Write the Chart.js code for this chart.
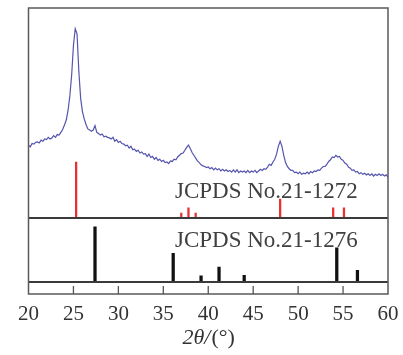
<!DOCTYPE html>
<html>
<head>
<meta charset="utf-8">
<script src="https://cdn.jsdelivr.net/npm/chart.js@4.4.0/dist/chart.umd.min.js"></script>
<style>
  html, body { margin: 0; padding: 0; background: #fff; }
  #wrap { width: 403px; height: 355px; position: relative; }
</style>
</head>
<body>
<div id="wrap"><canvas id="xrdChart"></canvas></div>
<script>
// measured pattern: 2theta scan from 20 to 60 deg, step 0.2
const scanStart = 20;
const scanStep = 0.2;
const intensity = [
    130, 127, 133, 132, 135,  136, 134, 139, 137, 141,
    140, 144, 141, 143, 147,  144, 149, 148, 153, 158,
    166, 175, 192, 218, 255,  308, 338, 329, 262, 214,
    190, 177, 167, 159, 157,  155, 157, 165, 153, 151,
    148, 150, 145, 146, 144,  143, 141, 144, 137, 140,
    135, 137, 133, 132, 129,  130, 125, 128, 122, 123,
    119, 121, 116, 118, 114,  115, 110, 114, 108, 110,
    105, 108, 103, 105, 101,  103, 99, 100, 97, 102,
    101, 105, 104, 109, 112,  115, 116, 121, 126, 130,
    124, 117, 112, 107, 102,  99, 95, 93, 92, 90,
    91, 88, 90, 86, 89,  86, 88, 84, 87, 84,
    86, 83, 85, 82, 86,  82, 86, 81, 84, 82,
    84, 81, 85, 81, 84,  82, 85, 81, 84, 87,
    85, 88, 87, 91, 96,  94, 100, 105, 114, 128,
    137, 128, 112, 99, 92,  88, 85, 85, 81, 82,
    79, 82, 78, 80, 79,  82, 79, 83, 81, 84,
    83, 86, 85, 89, 92,  92, 96, 101, 104, 109,
    108, 112, 109, 110, 105,  103, 98, 96, 91, 89,
    85, 86, 82, 83, 79,  81, 78, 80, 77, 79,
    76, 79, 75, 78, 76,  79, 76, 78, 75, 77,
    73
];

// JCPDS No.21-1272 (anatase)
const anataseAngles = [25.3, 37.0, 37.8, 38.6, 48.0, 53.9, 55.1];
const anataseRel = [100, 9, 18, 9, 34, 18, 18];

// JCPDS No.21-1276 (rutile)
const rutileAngles = [27.4, 36.1, 39.2, 41.2, 44.0, 54.3, 56.6];
const rutileRel = [100, 52, 11, 27, 12, 62, 21];

const xTicks = [20, 25, 30, 35, 40, 45, 50, 55, 60];

const serif = '"Liberation Serif", "Times New Roman", serif';

const curvePoints = intensity.map((v, i) => ({ x: scanStart + i * scanStep, y: v }));
const anatasePoints = anataseAngles.map((a, i) => ({ x: a, y: anataseRel[i] }));
const rutilePoints = rutileAngles.map((a, i) => ({ x: a, y: rutileRel[i] }));

// frame, panel separators, inside ticks and text labels
const framePlugin = {
    id: 'frame',
    afterDatasetsDraw(chart) {
        const { ctx, chartArea: a, scales } = chart;
        ctx.save();
        // separators between panels
        ctx.strokeStyle = '#3a3a3a';
        ctx.lineWidth = 2;
        [scales.yRef.top, scales.yStrip.top].forEach(y => {
            ctx.beginPath();
            ctx.moveTo(a.left, y);
            ctx.lineTo(a.right, y);
            ctx.stroke();
        });
        // outer box
        ctx.strokeStyle = '#5a5a5a';
        ctx.lineWidth = 1.5;
        ctx.strokeRect(a.left, a.top, a.right - a.left, a.bottom - a.top);
        // tick marks pointing in
        ctx.strokeStyle = '#555';
        ctx.lineWidth = 1.3;
        xTicks.slice(1, -1).forEach(t => {
            const x = scales.x.getPixelForValue(t);
            ctx.beginPath();
            ctx.moveTo(x, a.bottom);
            ctx.lineTo(x, a.bottom - 8);
            ctx.stroke();
        });
        // card labels
        ctx.fillStyle = '#404040';
        ctx.font = '23px ' + serif;
        ctx.textBaseline = 'alphabetic';
        ctx.textAlign = 'left';
        ctx.fillText('JCPDS No.21-1272', scales.x.getPixelForValue(36.3), scales.yTop.getPixelForValue(36));
        ctx.fillText('JCPDS No.21-1276', scales.x.getPixelForValue(36.3), scales.yRef.getPixelForValue(64));
        // axis title, 2θ in italic
        const cx = (a.left + a.right) / 2;
        const ty = 338;
        const part1 = '2θ/';
        const part2 = '(°)';
        ctx.font = 'italic 22px ' + serif;
        const w1 = ctx.measureText(part1).width;
        ctx.font = '22px ' + serif;
        const w2 = ctx.measureText(part2).width;
        let x0 = cx - (w1 + w2) / 2;
        ctx.fillStyle = '#333';
        ctx.textBaseline = 'middle';
        ctx.font = 'italic 22px ' + serif;
        ctx.fillText(part1, x0, ty);
        ctx.font = '22px ' + serif;
        ctx.fillText(part2, x0 + w1 + 1, ty);
        ctx.restore();
    }
};

const ctx = document.getElementById('xrdChart').getContext('2d');
const xrdChart = new Chart(ctx, {
    type: 'bar',
    data: {
        datasets: [
            {
                type: 'line',
                label: 'sample',
                data: curvePoints,
                yAxisID: 'yTop',
                borderColor: '#5454ae',
                borderWidth: 1.2,
                pointRadius: 0,
                tension: 0,
                fill: false
            },
            {
                label: 'JCPDS No.21-1272',
                data: anatasePoints,
                yAxisID: 'yTop',
                backgroundColor: '#e8302e',
                barThickness: 1.6,
                grouped: false,
                borderWidth: 0
            },
            {
                label: 'JCPDS No.21-1276',
                data: rutilePoints,
                yAxisID: 'yRef',
                backgroundColor: '#111',
                barThickness: 2.6,
                grouped: false,
                borderWidth: 0
            }
        ]
    },
    plugins: [framePlugin],
    options: {
        responsive: true,
        maintainAspectRatio: false,
        animation: false,
        layout: { padding: { left: 28.5, right: 15, top: 8, bottom: 0 } },
        plugins: {
            legend: { display: false },
            tooltip: { enabled: false }
        },
        scales: {
            x: {
                type: 'linear',
                min: 20,
                max: 60,
                offset: false,
                grid: { display: false },
                border: { display: false },
                afterBuildTicks: s => { s.ticks = xTicks.map(v => ({ value: v })); },
                afterFit: s => { s.height = 61; },
                ticks: {
                    color: '#333',
                    padding: 0,
                    maxRotation: 0,
                    font: { family: serif, size: 21 }
                }
            },
            yStrip: {
                type: 'linear',
                display: false,
                position: 'left',
                stack: 'xrd',
                stackWeight: 12,
                min: 0,
                max: 1
            },
            yRef: {
                type: 'linear',
                display: false,
                position: 'left',
                stack: 'xrd',
                stackWeight: 64,
                min: 0,
                max: 116
            },
            yTop: {
                type: 'linear',
                display: false,
                position: 'left',
                stack: 'xrd',
                stackWeight: 210,
                min: 0,
                max: 375
            }
        }
    }
});
</script>
</body>
</html>
